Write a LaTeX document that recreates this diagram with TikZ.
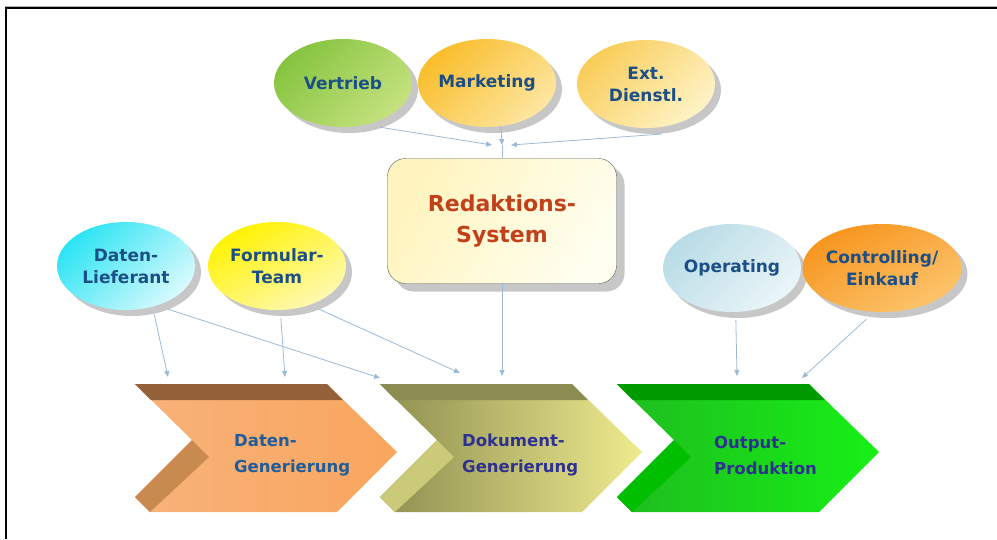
\documentclass[tikz,border=0pt]{standalone}
\usepackage{xcolor}
\usepackage{fontspec}
\setsansfont{DejaVu Sans}
\usepackage{tikz}
\usetikzlibrary{calc}
\usetikzlibrary{arrows.meta}
\usetikzlibrary{shapes.geometric}
\usetikzlibrary{shadows}

\definecolor{textblau}{HTML}{1C4F86}
\definecolor{textnavy}{HTML}{2E3192}
\definecolor{textdaten}{HTML}{1F5C99}
\definecolor{rost}{HTML}{C2401A}
\definecolor{pfeilblau}{HTML}{9DB9D5}
\definecolor{pfirsichA}{HTML}{F8B27A}
\definecolor{pfirsichB}{HTML}{FDD6B4}
\definecolor{pfirsichC}{HTML}{F9A65E}
\definecolor{braunA}{HTML}{93623A}
\definecolor{braunB}{HTML}{C98A50}
\definecolor{olivA}{HTML}{8E8E50}
\definecolor{olivB}{HTML}{E2DF86}
\definecolor{olivC}{HTML}{EEEB8E}
\definecolor{olivD}{HTML}{8C8C52}
\definecolor{olivE}{HTML}{CACA78}
\definecolor{gruenA}{HTML}{1FBC1F}
\definecolor{gruenB}{HTML}{22DE22}
\definecolor{gruenC}{HTML}{16F016}
\definecolor{gruenD}{HTML}{009A00}
\definecolor{gruenE}{HTML}{00BE00}
\definecolor{vertriebA}{HTML}{86C440}
\definecolor{vertriebB}{HTML}{C5E27E}
\definecolor{marketingA}{HTML}{F9BE2C}
\definecolor{marketingB}{HTML}{FDE6A0}
\definecolor{extA}{HTML}{F9CD5A}
\definecolor{extB}{HTML}{FEF3C6}
\definecolor{liefA}{HTML}{2DE4F4}
\definecolor{liefB}{HTML}{D8FAFD}
\definecolor{formA}{HTML}{FFF200}
\definecolor{formB}{HTML}{FFF9B4}
\definecolor{operA}{HTML}{B9DCE6}
\definecolor{operB}{HTML}{EAF5F8}
\definecolor{contrA}{HTML}{F7951E}
\definecolor{contrB}{HTML}{FCC46C}
\definecolor{redA}{HTML}{FFF4BE}
\definecolor{redB}{HTML}{FFFFF0}

\tikzset{
	blase/.style={ellipse,minimum width=138pt,minimum height=88pt,inner sep=0pt,align=center,text=textblau,
		font=\sffamily\bfseries\fontsize{17}{22}\selectfont,
		drop shadow={shadow xshift=6pt,shadow yshift=-6pt,fill=black!40,opacity=.55}},
	prozesstext/.style={anchor=west,align=left,inner sep=0pt,font=\sffamily\bfseries\fontsize{16.5}{26}\selectfont},
	pfeil/.style={pfeilblau,line width=0.8pt,-{Triangle[length=6pt,width=5pt]}},
	linie/.style={pfeilblau,line width=0.8pt}
}

\newcommand{\prozesspfeil}[6]{
	\begin{scope}[xshift=#1pt]
		\shade[left color=#2,middle color=#3,right color=#4] (0,384) -- (192,384) -- (262,452) -- (202,512) -- (15,512) -- (0,497) -- (57,440) -- cycle;
		\fill[#5] (0,384) -- (192,384) -- (208,400) -- (16,400) -- cycle;
		\fill[#6] (0,497) -- (57,440) -- (74,457) -- (15,512) -- cycle;
	\end{scope}
}

\begin{document}
\begin{tikzpicture}[x=1pt,y=-1pt]
	\useasboundingbox (0,0) rectangle (997,539);
	\draw[black!30,line width=1pt] (5,6) -- (997,6);
	\draw[line width=1.6pt] (6,539) -- (6,8) -- (997,8);

	\prozesspfeil{135}{pfirsichA}{pfirsichB}{pfirsichC}{braunA}{braunB}
	\prozesspfeil{380}{olivA}{olivB}{olivC}{olivD}{olivE}
	\prozesspfeil{617}{gruenA}{gruenB}{gruenC}{gruenD}{gruenE}

	\node[prozesstext,text=textdaten] (dgen) at (234,455) {Daten-\\Generierung};
	\node[prozesstext,text=textnavy] (dokgen) at (462,455) {Dokument-\\Generierung};
	\node[prozesstext,text=textnavy] (outprod) at (714,455) {Output-\\Produktion};

	\node[blase,top color=vertriebA,bottom color=vertriebB,shading angle=45] (vertrieb) at (343,83) {Vertrieb};
	\node[blase,top color=marketingA,bottom color=marketingB,shading angle=45] (marketing) at (487,83) {Marketing};
	\node[blase,top color=extA,bottom color=extB,shading angle=45] (extdl) at (646,84) {Ext.\\Dienstl.};

	\node[blase,top color=liefA,bottom color=liefB,shading angle=45] (lief) at (126,266) {Daten-\\Lieferant};
	\node[blase,top color=formA,bottom color=formB,shading angle=30] (formteam) at (277,266) {Formular-\\Team};
	\node[blase,top color=operA,bottom color=operB,shading angle=45] (operating) at (732,268) {Operating};
	\node[blase,top color=contrA,bottom color=contrB,shading angle=30] (controlling) at (882,268) {Controlling/\\Einkauf};

	\node[draw=black!65,rounded corners=18pt,minimum width=229pt,minimum height=125pt,align=center,
		top color=redA,bottom color=redB,shading angle=60,text=rost,
		font=\sffamily\bfseries\fontsize{22}{31}\selectfont,
		drop shadow={shadow xshift=8pt,shadow yshift=-8pt,fill=black!40,opacity=.55}] (redsys) at (502,221) {Redaktions-\\System};

	\coordinate (ein1) at (492,145);
	\coordinate (ein2) at (502,145);
	\coordinate (ein3) at (511,145);
	\draw[pfeil] ([yshift=-7pt]vertrieb.-45) -- (ein1);
	\draw[pfeil] (marketing.-72) -- (ein2);
	\draw[pfeil] ([yshift=-7pt]extdl.-70) -- (ein3);
	\draw[linie] (ein2) -- (redsys.north);

	\coordinate (dgen-in1) at (168,377);
	\coordinate (dgen-in2) at (285,377);
	\coordinate (dok-in1) at (380,378);
	\coordinate (dok-in2) at (460,373);
	\coordinate (dok-in3) at (502,376);
	\coordinate (out-in1) at (737,376);
	\coordinate (out-in2) at (802,378);
	\draw[pfeil] ([yshift=-8pt]lief.-55) -- (dgen-in1);
	\draw[pfeil] ([yshift=-8pt]lief.-40) -- (dok-in1);
	\draw[pfeil] ([yshift=-8pt]formteam.-85) -- (dgen-in2);
	\draw[pfeil] ([yshift=-8pt]formteam.-40) -- (dok-in2);
	\draw[pfeil] (redsys.south) -- (dok-in3);
	\draw[pfeil] ([yshift=-8pt]operating.-85) -- (out-in1);
	\draw[pfeil] ([yshift=-8pt]controlling.-110) -- (out-in2);
\end{tikzpicture}
\end{document}
